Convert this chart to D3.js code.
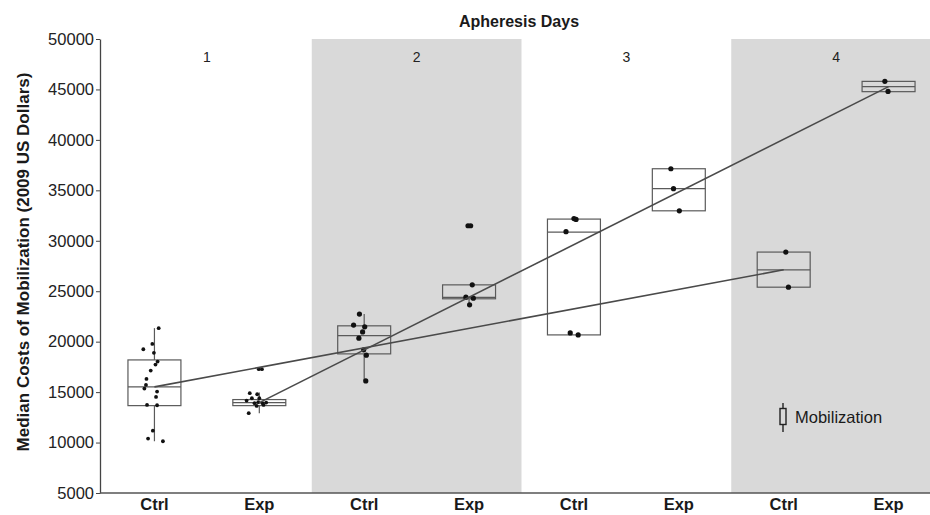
<!DOCTYPE html>
<html>
<head>
<meta charset="utf-8">
<script src="https://cdn.jsdelivr.net/npm/d3@7"></script>
<style>
  body { margin: 0; background: #fff; }
  svg { font-family: "Liberation Sans", Arial, sans-serif; }
</style>
</head>
<body>
<script>
const width = 930,
    height = 515;

// apheresis days and arms
const days = [1, 2, 3, 4];
const groups = ["Ctrl", "Exp"];
const shadedDays = [2, 4];
const yTicks = [5000, 10000, 15000, 20000, 25000, 30000, 35000, 40000, 45000, 50000];

// box stats, one value per day (US dollars)
const ctrlLo  = [10130, 16110, 20670, 25400];
const ctrlQ1  = [13660, 18790, 20670, 25400];
const ctrlMed = [15520, 20600, 30860, 27120];
const ctrlQ3  = [18190, 21570, 32150, 28880];
const ctrlHi  = [21340, 22730, 32150, 28880];

const expLo  = [12910, 23650, 32970, 44780];
const expQ1  = [13660, 24250, 32970, 44780];
const expMed = [13960, 24400, 35160, 45280];
const expQ3  = [14260, 25630, 37140, 45800];
const expHi  = [14950, 25630, 37140, 45800];

// individual patients, per day
const ctrlPts = [
  [21340, 19250, 19780, 18890, 17730, 18030, 17130, 16310, 15710, 15350, 15050, 14520, 13730, 13700, 11180, 10390, 10130],
  [22730, 21640, 21470, 20970, 20350, 19190, 18660, 16110],
  [32200, 32120, 30900, 20870, 20670],
  [28880, 25400]
];
// horizontal jitter, as a share of the box width
const ctrlJit = [
  [0.08, -0.21, -0.04, -0.01, 0.02, 0.06, -0.07, -0.15, -0.16, -0.19, 0.05, 0.03, -0.14, 0.05, -0.03, -0.12, 0.16],
  [-0.09, -0.2, 0.01, -0.03, -0.1, -0.01, 0.04, 0.03],
  [0.0, 0.04, -0.15, -0.07, 0.08],
  [0.04, 0.09]
];
const expPts = [
  [17270, 17270, 14890, 14790, 14390, 14390, 14160, 14000, 13960, 13900, 13900, 13730, 13630, 12910],
  [31490, 31490, 25630, 24410, 24310, 23650],
  [37140, 35160, 32970],
  [45800, 44800]
];
const expJit = [
  [-0.01, 0.05, -0.18, -0.04, -0.14, 0, -0.24, -0.02, 0.13, 0.06, -0.09, 0.08, -0.05, -0.2],
  [-0.02, 0.03, 0.06, -0.06, 0.08, 0.01],
  [-0.15, -0.1, 0.01],
  [-0.07, -0.01]
];

const stats = {
  Ctrl: { lo: ctrlLo, q1: ctrlQ1, med: ctrlMed, q3: ctrlQ3, hi: ctrlHi, pts: ctrlPts, jit: ctrlJit },
  Exp:  { lo: expLo,  q1: expQ1,  med: expMed,  q3: expQ3,  hi: expHi,  pts: expPts,  jit: expJit }
};

const svg = d3.select("body").append("svg")
    .attr("width", width)
    .attr("height", height);

const x0 = 102, x1 = 941, yBottom = 493, yTop = 39;

const xDay = d3.scaleBand().domain(days).range([x0, x1]);
const xGroup = d3.scaleBand().domain(groups).range([0, xDay.bandwidth()]);
const y = d3.scaleLinear().domain([5000, 50000]).range([yBottom, yTop]);

const cx = (d, g) => xDay(d) + xGroup(g) + xGroup.bandwidth() / 2;
const boxW = xGroup.bandwidth() * 0.505;

// grey panels
svg.append("g").selectAll("rect")
  .data(shadedDays)
  .join("rect")
    .attr("x", d => xDay(d))
    .attr("y", y(50000))
    .attr("width", xDay.bandwidth())
    .attr("height", y(5000) - y(50000))
    .attr("fill", "#d9d9d9");

// day numbers
svg.append("g").selectAll("text")
  .data(days)
  .join("text")
    .attr("x", d => xDay(d) + xDay.bandwidth() / 2)
    .attr("y", 62)
    .attr("text-anchor", "middle")
    .style("font-size", "14px")
    .style("fill", "#222")
    .text(d => d);

const boxes = [];
groups.forEach(g => days.forEach((d, i) => boxes.push({ g: g, d: d, i: i })));

const boxG = svg.append("g")
    .attr("fill", "none")
    .attr("stroke", "#5a5a5a")
    .attr("stroke-width", 1.2);

boxes.forEach(b => {
  const s = stats[b.g], c = cx(b.d, b.g);
  if (s.hi[b.i] > s.q3[b.i])
    boxG.append("line").attr("x1", c).attr("x2", c).attr("y1", y(s.hi[b.i])).attr("y2", y(s.q3[b.i]));
  if (s.lo[b.i] < s.q1[b.i])
    boxG.append("line").attr("x1", c).attr("x2", c).attr("y1", y(s.q1[b.i])).attr("y2", y(s.lo[b.i]));
  boxG.append("rect")
      .attr("x", c - boxW / 2)
      .attr("y", y(s.q3[b.i]))
      .attr("width", boxW)
      .attr("height", y(s.q1[b.i]) - y(s.q3[b.i]));
  boxG.append("line")
      .attr("x1", c - boxW / 2).attr("x2", c + boxW / 2)
      .attr("y1", y(s.med[b.i])).attr("y2", y(s.med[b.i]));
});

// patient points
const ptG = svg.append("g").attr("fill", "#111");
boxes.forEach(b => {
  const s = stats[b.g], c = cx(b.d, b.g);
  s.pts[b.i].forEach((v, k) => {
    ptG.append("circle")
        .attr("cx", c + s.jit[b.i][k] * boxW)
        .attr("cy", y(v))
        .attr("r", b.d === 1 ? 1.9 : 2.6);
  });
});

// lines from day 1 median to day 4 median
const line = d3.line().x(p => p[0]).y(p => p[1]);
groups.forEach(g => {
  const s = stats[g];
  const first = 0, last = days.length - 1;
  svg.append("path")
      .attr("d", line([[cx(days[first], g), y(s.med[first])], [cx(days[last], g), y(s.med[last])]]))
      .attr("fill", "none")
      .attr("stroke", "#4a4a4a")
      .attr("stroke-width", 1.6);
});

// y axis
const yAxis = svg.append("g")
    .attr("transform", "translate(100,0)")
    .call(d3.axisLeft(y).tickValues(yTicks).tickSize(4).tickSizeOuter(0).tickPadding(2).tickFormat(d3.format("d")));
yAxis.selectAll("text").style("font-size", "16.5px").style("fill", "#222").style("font-family", "Liberation Sans, Arial, sans-serif");
yAxis.selectAll("line").attr("stroke", "#444");
yAxis.select(".domain").attr("stroke", "#444").attr("stroke-width", 1.3);

// x axis
const flat = [];
days.forEach(d => groups.forEach(g => flat.push(d + "-" + g)));
const xFlat = d3.scaleBand().domain(flat).range([x0, x1]);
const xAxis = svg.append("g")
    .attr("transform", "translate(0," + yBottom + ")")
    .call(d3.axisBottom(xFlat).tickSize(0).tickPadding(5).tickFormat(k => k.split("-")[1]));
xAxis.select(".domain").attr("d", "M100,0H" + width).attr("stroke", "#555").attr("stroke-width", 1.3);
xAxis.selectAll("text")
    .style("font-size", "16.5px")
    .style("font-weight", "bold")
    .style("fill", "#1a1a1a")
    .style("font-family", "Liberation Sans, Arial, sans-serif");

// titles
svg.append("text")
    .attr("x", 519)
    .attr("y", 27)
    .attr("text-anchor", "middle")
    .style("font-size", "16px")
    .style("font-weight", "bold")
    .style("fill", "#1a1a1a")
    .text("Apheresis Days");

svg.append("text")
    .attr("transform", "translate(29,262) rotate(-90)")
    .attr("text-anchor", "middle")
    .style("font-size", "17px")
    .style("font-weight", "bold")
    .style("fill", "#1a1a1a")
    .text("Median Costs of Mobilization (2009 US Dollars)");

// legend
const legend = svg.append("g").attr("transform", "translate(783,417)");
legend.append("line")
    .attr("y1", -14).attr("y2", 15)
    .attr("stroke", "#222").attr("stroke-width", 1.4);
legend.append("rect")
    .attr("x", -3).attr("y", -8.5)
    .attr("width", 6).attr("height", 16)
    .attr("fill", "#d9d9d9")
    .attr("stroke", "#222").attr("stroke-width", 1.4);
legend.append("text")
    .attr("x", 12)
    .attr("y", 6)
    .style("font-size", "16.5px")
    .style("fill", "#1a1a1a")
    .text("Mobilization");
</script>
</body>
</html>
